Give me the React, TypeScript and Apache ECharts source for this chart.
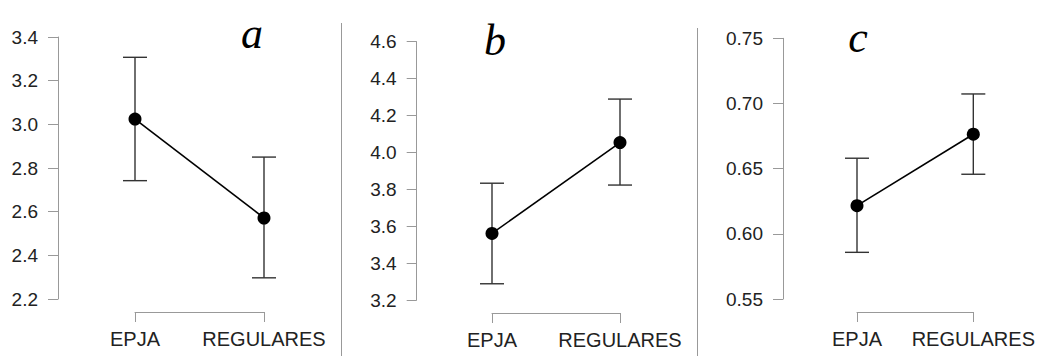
import React, { useEffect, useRef } from 'react';
import * as echarts from 'echarts';

const categories = ['EPJA', 'REGULARES'];

const meanA = [3.024, 2.571];
const upperA = [3.307, 2.85];
const lowerA = [2.742, 2.297];

const meanB = [3.561, 4.053];
const upperB = [3.833, 4.289];
const lowerB = [3.288, 3.823];

const meanC = [0.6216, 0.6764];
const upperC = [0.658, 0.7073];
const lowerC = [0.5858, 0.6457];

const yMin = [2.2, 3.2, 0.55];
const yMax = [3.4, 4.6, 0.75];
const yStep = [0.2, 0.2, 0.05];
const yDecimals = [1, 1, 2];
const panelLetters = ['a', 'b', 'c'];

const means = [meanA, meanB, meanC];
const uppers = [upperA, upperB, upperC];
const lowers = [lowerA, lowerB, lowerC];

// layout (pixels)
const grids = [
  { left: 135, right: 1038 - 264, top: 37, height: 262, yAxisX: 58 },
  { left: 492, right: 1038 - 620, top: 41.7, height: 258.3, yAxisX: 416.7 },
  { left: 857, right: 1038 - 980, top: 38.3, height: 260.7, yAxisX: 783 },
];
const letterPos = [
  { x: 252, y: 33 },
  { x: 495, y: 40 },
  { x: 858, y: 37 },
];

const AXIS_COLOR = '#999';
const TEXT_COLOR = '#222';

export default function App() {
  const ref = useRef<HTMLDivElement>(null);
  useEffect(() => {
    if (!ref.current) return;
    const chart = echarts.init(ref.current, undefined, { renderer: 'svg' });

    const grid: any[] = [];
    const xAxis: any[] = [];
    const yAxis: any[] = [];
    const series: any[] = [];

    grids.forEach((g, i) => {
      grid.push({ left: g.left, right: g.right, top: g.top, height: g.height, containLabel: false });
      xAxis.push({
        type: 'category',
        gridIndex: i,
        data: categories,
        boundaryGap: false,
        offset: 13,
        axisLine: { show: true, lineStyle: { color: AXIS_COLOR, width: 1 } },
        axisTick: { show: true, length: 10, lineStyle: { color: AXIS_COLOR } },
        axisLabel: {
          interval: 0,
          margin: 17,
          fontSize: 20,
          color: TEXT_COLOR,
          fontFamily: 'Liberation Sans, Arial, sans-serif',
        },
        splitLine: { show: false },
      });
      yAxis.push({
        type: 'value',
        gridIndex: i,
        min: yMin[i],
        max: yMax[i],
        interval: yStep[i],
        offset: g.left - g.yAxisX,
        axisLine: { show: true, lineStyle: { color: AXIS_COLOR, width: 1 } },
        axisTick: { show: true, length: 10, lineStyle: { color: AXIS_COLOR } },
        axisLabel: {
          margin: 20,
          fontSize: 19,
          color: TEXT_COLOR,
          fontFamily: 'Liberation Sans, Arial, sans-serif',
          formatter: (v: number) => v.toFixed(yDecimals[i]),
        },
        splitLine: { show: false },
      });

      series.push({
        type: 'custom',
        xAxisIndex: i,
        yAxisIndex: i,
        clip: false,
        z: 1,
        data: categories.map((_, k) => [k, lowers[i][k], uppers[i][k]]),
        encode: { x: 0, y: [1, 2] },
        renderItem: (params: any, api: any) => {
          const x = api.value(0);
          const lo = api.coord([x, api.value(1)]);
          const hi = api.coord([x, api.value(2)]);
          const hw = 12;
          const style = { stroke: '#333', lineWidth: 1.4 };
          return {
            type: 'group',
            children: [
              { type: 'line', shape: { x1: lo[0], y1: lo[1], x2: hi[0], y2: hi[1] }, style },
              { type: 'line', shape: { x1: hi[0] - hw, y1: hi[1], x2: hi[0] + hw, y2: hi[1] }, style },
              { type: 'line', shape: { x1: lo[0] - hw, y1: lo[1], x2: lo[0] + hw, y2: lo[1] }, style },
            ],
          };
        },
      });
      series.push({
        type: 'line',
        xAxisIndex: i,
        yAxisIndex: i,
        data: means[i],
        z: 3,
        symbol: 'circle',
        symbolSize: 13,
        showSymbol: true,
        itemStyle: { color: '#000' },
        lineStyle: { color: '#000', width: 1.6 },
        clip: false,
      });
    });

    const graphic: any[] = [
      { type: 'line', shape: { x1: 341.5, y1: 23, x2: 341.5, y2: 356 }, style: { stroke: AXIS_COLOR, lineWidth: 1 } },
      { type: 'line', shape: { x1: 697.5, y1: 28, x2: 697.5, y2: 356 }, style: { stroke: AXIS_COLOR, lineWidth: 1 } },
    ];
    panelLetters.forEach((l, i) => {
      graphic.push({
        type: 'text',
        x: letterPos[i].x,
        y: letterPos[i].y,
        style: {
          text: l,
          font: 'italic 44px "Liberation Serif", "Times New Roman", serif',
          fill: '#000',
          textAlign: 'center',
          textVerticalAlign: 'middle',
        },
      });
    });

    chart.setOption({
      animation: false,
      backgroundColor: '#fff',
      grid,
      xAxis,
      yAxis,
      series,
      graphic,
    });
    return () => chart.dispose();
  }, []);

  return (
    <div
      ref={ref}
      style={{ position: 'fixed', left: 0, top: 0, width: 1038, height: 356, background: '#fff' }}
    />
  );
}
